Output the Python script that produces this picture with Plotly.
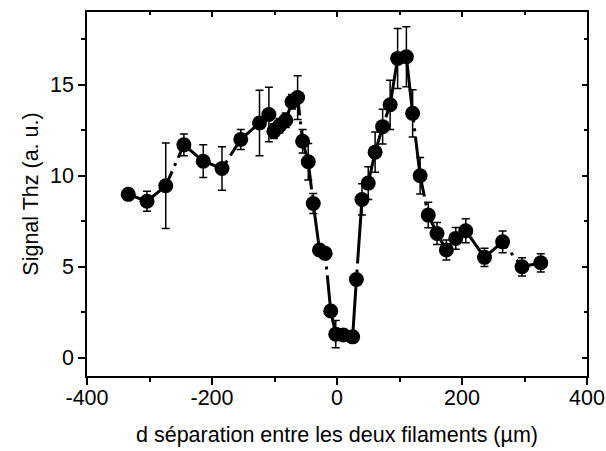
import plotly.graph_objects as go

# Data
sep_um = [-334, -304, -274, -245, -214, -184, -154, -124, -109, -101, -92, -82,
          -72, -63, -55, -46, -38, -28, -19, -10, -2, 10, 25, 31,
          40, 50, 61, 73, 85, 97, 111, 121, 133, 146, 160, 175,
          190, 206, 236, 265, 296, 326]
signal = [8.98, 8.6, 9.45, 11.7, 10.8, 10.4, 12.0, 12.9, 13.37, 12.45, 12.75, 13.05,
          14.07, 14.3, 11.9, 10.77, 8.48, 5.92, 5.74, 2.57, 1.3, 1.25, 1.15, 4.3,
          8.7, 9.6, 11.3, 12.7, 13.9, 16.45, 16.54, 13.43, 10.0, 7.84, 6.83, 5.92,
          6.56, 6.98, 5.52, 6.37, 5.0, 5.22]
signal_err = [0.3, 0.55, 2.35, 0.6, 0.9, 1.2, 0.55, 1.8, 1.5, 0.4, 0.4, 0.4,
              0.4, 1.2, 0.65, 1.0, 0.55, 0.3, 0.3, 0.3, 0.75, 0.3, 0.3, 0.3,
              0.86, 0.9, 1.1, 0.95, 1.35, 1.65, 1.65, 1.3, 1.0, 0.7, 0.6, 0.55,
              0.6, 0.66, 0.5, 0.6, 0.5, 0.5]

x_ticks = [-400, -200, 0, 200, 400]
y_ticks = [0, 5, 10, 15]

FONT = "Liberation Sans, Arial, sans-serif"
FS = 21.5

fig = go.Figure()
fig.add_trace(go.Scatter(
    x=sep_um, y=signal,
    mode="lines+markers",
    line=dict(color="black", width=3, dash="60px,6px,3px,6px"),
    marker=dict(color="black", size=15),
    error_y=dict(type="data", array=signal_err, color="black", thickness=1.5, width=4),
    showlegend=False,
))
# invisible trace to carry the mirrored (top/right) axes
fig.add_trace(go.Scatter(
    x=sep_um, y=signal, xaxis="x2", yaxis="y2",
    mode="markers", marker=dict(opacity=0), showlegend=False, hoverinfo="skip",
))

axis_common = dict(showgrid=False, zeroline=False, showline=True, linecolor="black",
                   linewidth=1.5, tickcolor="black", tickwidth=1.5, automargin=False,
                   tickfont=dict(family=FONT, size=FS, color="black"))

fig.update_layout(
    width=606, height=451,
    paper_bgcolor="white", plot_bgcolor="white",
    margin=dict(l=87, r=19, t=12, b=75),
    font=dict(family=FONT, size=FS, color="black"),
    xaxis=dict(range=[-400, 400], tickvals=x_ticks, ticktext=[str(v) for v in x_ticks],
               ticks="outside", ticklen=7, ticklabelstandoff=-6,
               minor=dict(dtick=100, tick0=0, ticks="outside", ticklen=4, tickcolor="black", tickwidth=1.5),
               title=dict(text="d séparation entre les deux filaments (µm)",
                          font=dict(family=FONT, size=FS), standoff=18),
               **axis_common),
    yaxis=dict(range=[-1, 19], tickvals=y_ticks, ticks="outside", ticklen=7,
               minor=dict(dtick=2.5, tick0=0, ticks="outside", ticklen=4, tickcolor="black", tickwidth=1.5),
               title=dict(text="Signal Thz (a. u.)", font=dict(family=FONT, size=FS), standoff=6),
               **axis_common),
    xaxis2=dict(overlaying="x", side="top", matches="x", range=[-400, 400],
                tickvals=x_ticks, showticklabels=False, ticks="inside", ticklen=5,
                minor=dict(dtick=100, tick0=0, ticks="inside", ticklen=3, tickcolor="black", tickwidth=1.5),
                **axis_common),
    yaxis2=dict(overlaying="y", side="right", matches="y", range=[-1, 19],
                tickvals=y_ticks, showticklabels=False, ticks="inside", ticklen=5,
                minor=dict(dtick=2.5, tick0=0, ticks="inside", ticklen=3, tickcolor="black", tickwidth=1.5),
                **axis_common),
)

fig.write_html("out.html", config={"displayModeBar": False},
               post_script="document.body.style.margin='0px';")
